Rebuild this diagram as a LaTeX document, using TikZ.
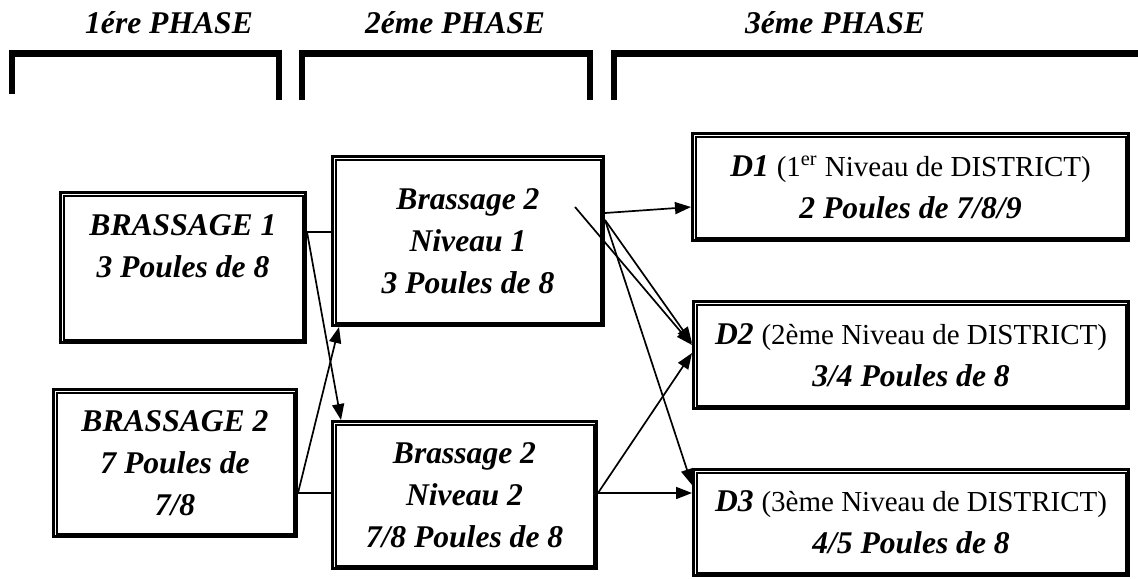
\documentclass[tikz,border=0pt]{standalone}
\usepackage{fontspec}
\setmainfont{Liberation Serif}
\usetikzlibrary{arrows.meta}
\newcommand{\niv}[1]{{\normalfont\fontsize{14.5}{21}\selectfont #1}}

\begin{document}
\begin{tikzpicture}[x=0.5pt,y=-0.5pt,
  phase/.style={anchor=base,font=\bfseries\itshape\fontsize{15.8}{21}\selectfont},
  bracket/.style={line width=3.4pt},
  box/.style={draw,line width=1.5pt,align=center,inner sep=2pt,
    font=\bfseries\itshape\fontsize{15.8}{21}\selectfont},
  link/.style={line width=0.85pt},
  >={Triangle[length=8pt,width=6pt]}]
\useasboundingbox (0,0) rectangle (1138,578);
% phases
\draw
(169,33) node[phase](pA){1ére PHASE}
(455,33) node[phase](pB){2éme PHASE}
(835,33) node[phase](pC){3éme PHASE}
;
\draw[bracket] (12,94) -- (12,53.5) -- (279,53.5) -- (279,100);
\draw[bracket] (302,100) -- (302,53.5) -- (590,53.5) -- (590,100);
\draw[bracket] (614,100) -- (614,53.5) -- (1138,53.5);
% boxes
\draw
(183,267.5) node[box,minimum width=122.5pt,minimum height=75pt](brA){BRASSAGE 1\\3 Poules de 8\\~}
(175,463) node[box,minimum width=121.5pt,minimum height=73.5pt](brB){BRASSAGE 2\\7 Poules de\\7/8}
(468,241) node[box,minimum width=135.5pt,minimum height=84.5pt](nivA){Brassage 2\\Niveau 1\\3 Poules de 8}
(464.5,495) node[box,minimum width=132pt,minimum height=73.5pt](nivB){Brassage 2\\Niveau 2\\7/8 Poules de 8}
(910.5,187) node[box,minimum width=218pt,minimum height=53.5pt](dA){D1 \niv{(1\textsuperscript{er} Niveau de DISTRICT)}\\2 Poules de 7/8/9}
(911,355) node[box,minimum width=217.5pt,minimum height=53.5pt](dB){D2 \niv{(2ème Niveau de DISTRICT)}\\3/4 Poules de 8}
(911,522.5) node[box,minimum width=217.5pt,minimum height=53pt](dC){D3 \niv{(3ème Niveau de DISTRICT)}\\4/5 Poules de 8}
;
\foreach \n in {brA,brB,nivA,nivB,dA,dB,dC}{
\draw[line width=1pt] ([shift={(4.5,4.5)}]\n.north west) rectangle ([shift={(-4.5,-4.5)}]\n.south east);
}
% links
\coordinate (jA) at (brA.east |- 0,232);
\coordinate (jB) at (brB.east |- 0,493);
\coordinate (kA) at (575,207);
\draw[link] (jA) -- (nivA.west |- jA);
\draw[link] (jB) -- (nivB.west |- jB);
\draw[link,->] (jA) -- ([xshift=5pt]nivB.north west);
\draw[link,->] (jB) -- ([xshift=4pt]nivA.south west);
\draw[link,->] (kA) -- (dB.west |- 0,345);
\foreach \a/\ya/\b/\yb in {nivA.east/213/dA.west/207, nivA.east/220/dB.west/343,
  nivA.east/220/dC.west/485, nivB.east/493/dB.west/353, nivB.east/493/dC.west/493}{
\draw[link,->] (\a |- 0,\ya) -- (\b |- 0,\yb);
}
\end{tikzpicture}
\end{document}
